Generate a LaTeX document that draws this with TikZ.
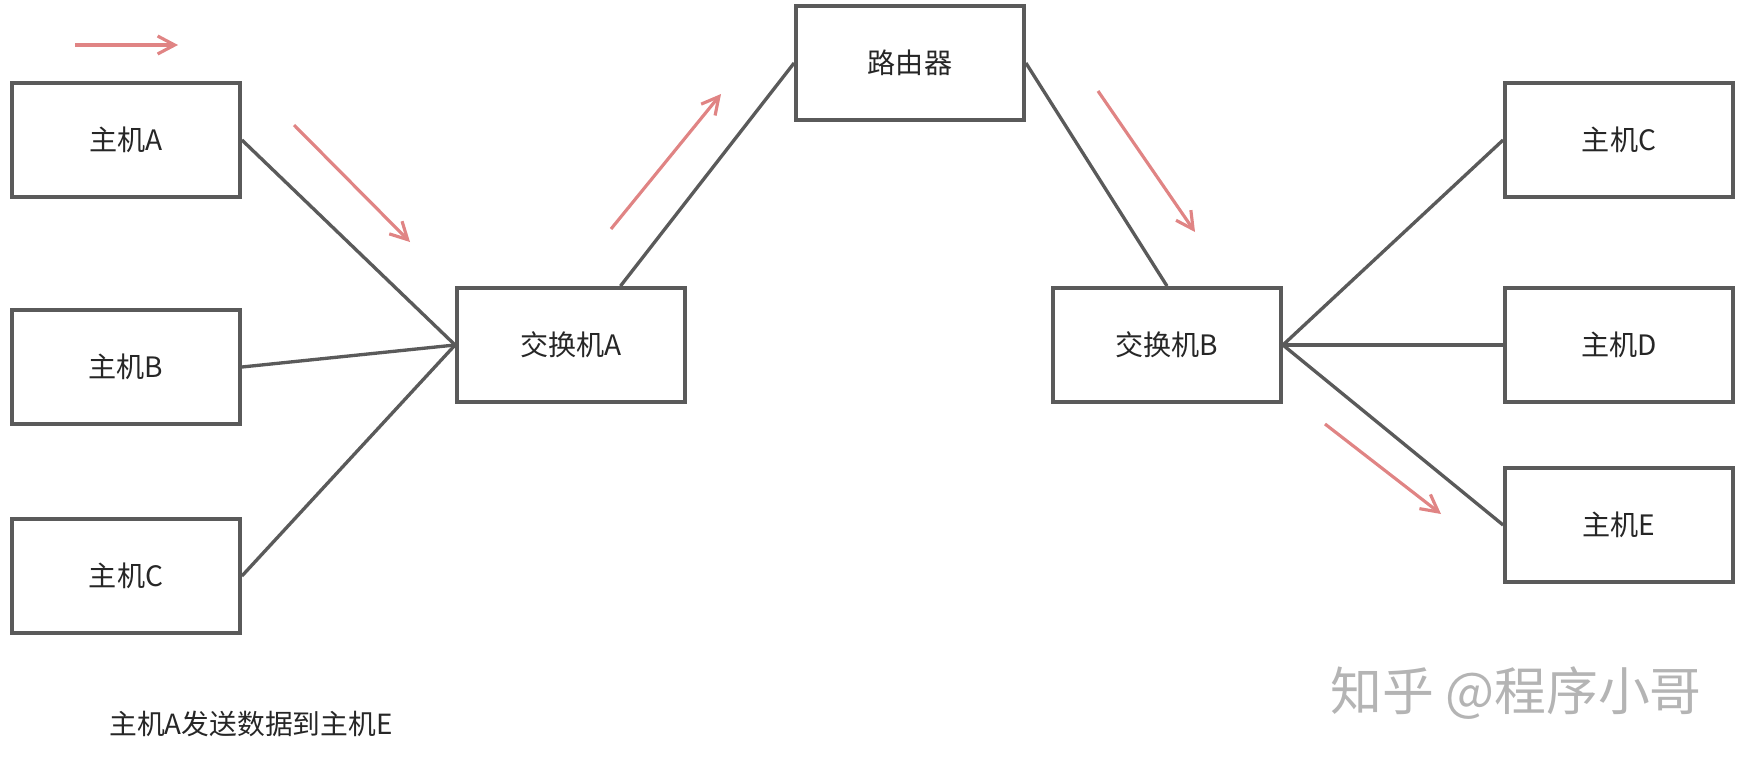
\documentclass[tikz,border=0pt]{standalone}
\usepackage{fontspec}
\setmainfont{Noto Sans CJK SC}
\usetikzlibrary{positioning, calc, arrows.meta}
\definecolor{boxgray}{HTML}{5A5A5A}
\definecolor{flowred}{HTML}{E08484}
\definecolor{markgray}{HTML}{B4B4B4}

\begin{document}
\begin{tikzpicture}[
    x=0.02cm, y=-0.02cm,
    devbox/.style = {rectangle, draw=boxgray, line width=2.2pt, fill=white,
                     minimum width=4.56cm, minimum height=2.28cm,
                     font=\fontsize{16}{19}\selectfont, text=black!85,
                     inner sep=0pt},
    wire/.style   = {line width=1.9pt, draw=boxgray},
    flow/.style   = {line width=1.8pt, draw=flowred,
                     -{Straight Barb[length=3.4mm, width=3.6mm]}},
    lbl/.style    = {font=\fontsize{15.8}{19}\selectfont, text=black!85},
]

%% ---- Layout coordinates (pixels) ----
\def\xLeft{126}
\def\xSwA{571}
\def\xRouter{910}
\def\xSwB{1167}
\def\xRight{1619}

\useasboundingbox (0,0) rectangle (1748,761);

%% ==================================================================
%% NODES
%% ==================================================================

\node[devbox] (hostA) at (\xLeft, 140) {主机A};
\node[devbox] (hostB) at (\xLeft, 367) {主机B};
\node[devbox] (hostC) at (\xLeft, 576) {主机C};

\node[devbox] (swA) at (\xSwA, 345) {交换机A};
\node[devbox] (router) at (\xRouter, 63) {路由器};
\node[devbox] (swB) at (\xSwB, 345) {交换机B};

\node[devbox] (hostC2) at (\xRight, 140) {主机C};
\node[devbox] (hostD) at (\xRight, 345) {主机D};
\node[devbox] (hostE) at (\xRight, 525) {主机E};

\node[lbl] (caption) at (251, 724) {主机A发送数据到主机E};
\node[font=\fontsize{29.5}{34}\selectfont, text=markgray]
    (mark) at (1516, 693) {知乎 @程序小哥};

%% ==================================================================
%% CONNECTIONS
%% ==================================================================

\draw[wire] (hostA.east) -- (swA.west);
\draw[wire] (hostB.east) -- (swA.west);
\draw[wire] (hostC.east) -- (swA.west);

\draw[wire] (swA.50) -- (router.west);
\draw[wire] (router.east) -- (swB.north);

\draw[wire] (swB.east) -- (hostC2.west);
\draw[wire] (swB.east) -- (hostD.west);
\draw[wire] (swB.east) -- (hostE.west);

%% Data flow arrows
\foreach \sx/\sy/\ex/\ey in {75/45/178/45, 294/125/410/242,
                              611/229/721/94, 1098/91/1195/232,
                              1325/424/1441/514}
    \draw[flow] (\sx,\sy) -- (\ex,\ey);

\end{tikzpicture}
\end{document}
